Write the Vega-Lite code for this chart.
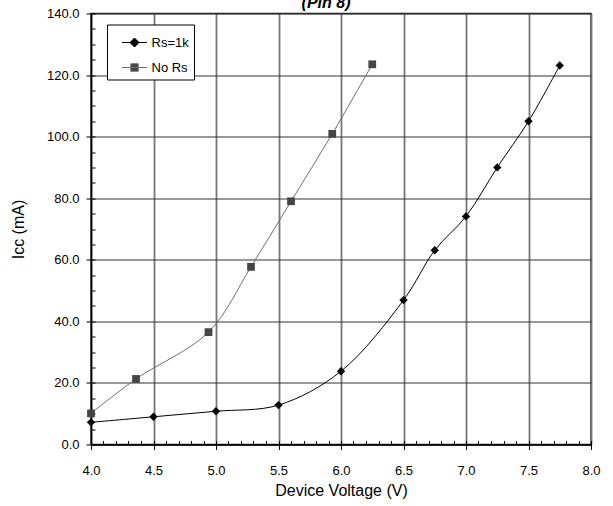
{
  "$schema": "https://vega.github.io/schema/vega-lite/v6.json",
  "width": 500,
  "height": 431,
  "autosize": {"type": "none"},
  "padding": {"left": 91, "top": 13.5, "right": 22, "bottom": 61.5},
  "background": "white",
  "title": {
    "text": "(Pin 8)",
    "font": "Liberation Sans",
    "fontSize": 16,
    "fontStyle": "italic",
    "fontWeight": "bold",
    "color": "#000",
    "anchor": "middle",
    "frame": "group",
    "baseline": "bottom",
    "offset": 1,
    "dx": -15,
    "dy": 20
  },
  "config": {
    "view": {"stroke": "#222", "strokeWidth": 1.5},
    "axis": {
      "labelFont": "Liberation Sans",
      "titleFont": "Liberation Sans",
      "labelColor": "#000",
      "titleColor": "#000",
      "titleFontWeight": "normal",
      "labelFontSize": 13,
      "titleFontSize": 16,
      "domainColor": "#000",
      "domainWidth": 1.5,
      "tickColor": "#000",
      "tickWidth": 1
    }
  },
  "data": {
    "values": [
      {"series": "Rs=1k", "voltage": 4.0, "icc": 7.2},
      {"series": "Rs=1k", "voltage": 4.5, "icc": 9.0},
      {"series": "Rs=1k", "voltage": 5.0, "icc": 10.8},
      {"series": "Rs=1k", "voltage": 5.5, "icc": 12.8},
      {"series": "Rs=1k", "voltage": 6.0, "icc": 23.8},
      {"series": "Rs=1k", "voltage": 6.5, "icc": 46.9},
      {"series": "Rs=1k", "voltage": 6.75, "icc": 63.1},
      {"series": "Rs=1k", "voltage": 7.0, "icc": 74.1},
      {"series": "Rs=1k", "voltage": 7.25, "icc": 90.0},
      {"series": "Rs=1k", "voltage": 7.5, "icc": 105.0},
      {"series": "Rs=1k", "voltage": 7.75, "icc": 123.1},
      {"series": "No Rs", "voltage": 4.0, "icc": 10.1},
      {"series": "No Rs", "voltage": 4.36, "icc": 21.3},
      {"series": "No Rs", "voltage": 4.94, "icc": 36.5},
      {"series": "No Rs", "voltage": 5.28, "icc": 57.7},
      {"series": "No Rs", "voltage": 5.6, "icc": 79.0},
      {"series": "No Rs", "voltage": 5.93, "icc": 100.9},
      {"series": "No Rs", "voltage": 6.25, "icc": 123.5}
    ]
  },
  "layer": [
    {
      "mark": {"type": "line", "interpolate": "catmull-rom", "strokeWidth": 1},
      "encoding": {
        "x": {
          "field": "voltage",
          "type": "quantitative",
          "scale": {"domain": [4, 8], "nice": false, "zero": false},
          "axis": {
            "values": [4, 4.5, 5, 5.5, 6, 6.5, 7, 7.5, 8],
            "format": ".1f",
            "title": "Device Voltage (V)",
            "grid": true,
            "gridColor": "#777",
            "gridWidth": 1.8,
            "tickSize": 5,
            "labelPadding": 15,
            "titlePadding": 5,
            "labelFlush": false
          }
        },
        "y": {
          "field": "icc",
          "type": "quantitative",
          "scale": {"domain": [0, 140], "nice": false, "zero": true},
          "axis": {
            "values": [0, 20, 40, 60, 80, 100, 120, 140],
            "format": ".1f",
            "title": "Icc (mA)",
            "grid": true,
            "gridColor": "#333",
            "gridWidth": 1.2,
            "tickSize": 5,
            "labelPadding": 7,
            "titlePadding": 20
          }
        },
        "color": {
          "field": "series",
          "type": "nominal",
          "scale": {"domain": ["Rs=1k", "No Rs"], "range": ["#000000", "#6e6e6e"]},
          "legend": {
            "orient": "none",
            "legendX": 16,
            "legendY": 11,
            "title": null,
            "padding": 5,
            "strokeColor": "#000",
            "fillColor": "#fff",
            "rowPadding": 5,
            "symbolOffset": 9.5,
            "symbolSize": 625,
            "symbolType": "M-1,0H1",
            "labelFont": "Liberation Sans",
            "labelFontSize": 13,
            "labelColor": "#000",
            "labelOffset": 4,
            "labelExpr": "datum.label + '\u00a0\u00a0\u00a0'",
            "encode": {
              "symbols": {
                "update": {
                  "shape": {"signal": "datum.value === 'Rs=1k' ? 'M-1,0H1M0,-0.36L0.36,0L0,0.36L-0.36,0Z' : 'M-1,0H1M-0.3,-0.3H0.3V0.3H-0.3Z'"},
                  "fill": {"signal": "datum.value === 'Rs=1k' ? '#000' : '#454545'"},
                  "stroke": {"signal": "datum.value === 'Rs=1k' ? '#000' : '#6e6e6e'"},
                  "strokeWidth": {"value": 1},
                  "size": {"value": 625},
                  "opacity": {"value": 1}
                }
              }
            }
          }
        }
      }
    },
    {
      "transform": [{"filter": "datum.series === 'Rs=1k'"}],
      "mark": {"type": "point", "shape": "diamond", "filled": true, "opacity": 1, "size": 70, "strokeWidth": 0, "color": "#000000"},
      "encoding": {
        "x": {
          "field": "voltage",
          "type": "quantitative",
          "scale": {"domain": [4, 8], "nice": false, "zero": false},
          "axis": {
            "orient": "top",
            "offset": -431,
            "values": [4, 4.1, 4.2, 4.3, 4.4, 4.5, 4.6, 4.7, 4.8, 4.9, 5, 5.1, 5.2, 5.3, 5.4, 5.5, 5.6, 5.7, 5.8, 5.9, 6, 6.1, 6.2, 6.3, 6.4, 6.5, 6.6, 6.7, 6.8, 6.9, 7, 7.1, 7.2, 7.3, 7.4, 7.5, 7.6, 7.7, 7.8, 7.9, 8],
            "labels": false,
            "grid": false,
            "domain": false,
            "title": null,
            "tickSize": 4
          }
        },
        "y": {
          "field": "icc",
          "type": "quantitative",
          "scale": {"domain": [0, 140], "nice": false, "zero": true},
          "axis": {
            "orient": "right",
            "offset": -500,
            "values": [0, 5, 10, 15, 20, 25, 30, 35, 40, 45, 50, 55, 60, 65, 70, 75, 80, 85, 90, 95, 100, 105, 110, 115, 120, 125, 130, 135, 140],
            "labels": false,
            "grid": false,
            "domain": false,
            "title": null,
            "tickSize": 4
          }
        }
      }
    },
    {
      "transform": [{"filter": "datum.series === 'No Rs'"}],
      "mark": {"type": "point", "shape": "square", "filled": true, "opacity": 1, "size": 60, "strokeWidth": 0, "color": "#454545"},
      "encoding": {
        "x": {"field": "voltage", "type": "quantitative", "scale": {"domain": [4, 8], "nice": false, "zero": false}, "axis": null},
        "y": {"field": "icc", "type": "quantitative", "scale": {"domain": [0, 140], "nice": false, "zero": true}, "axis": null}
      }
    }
  ],
  "resolve": {"axis": {"x": "independent", "y": "independent"}}
}
